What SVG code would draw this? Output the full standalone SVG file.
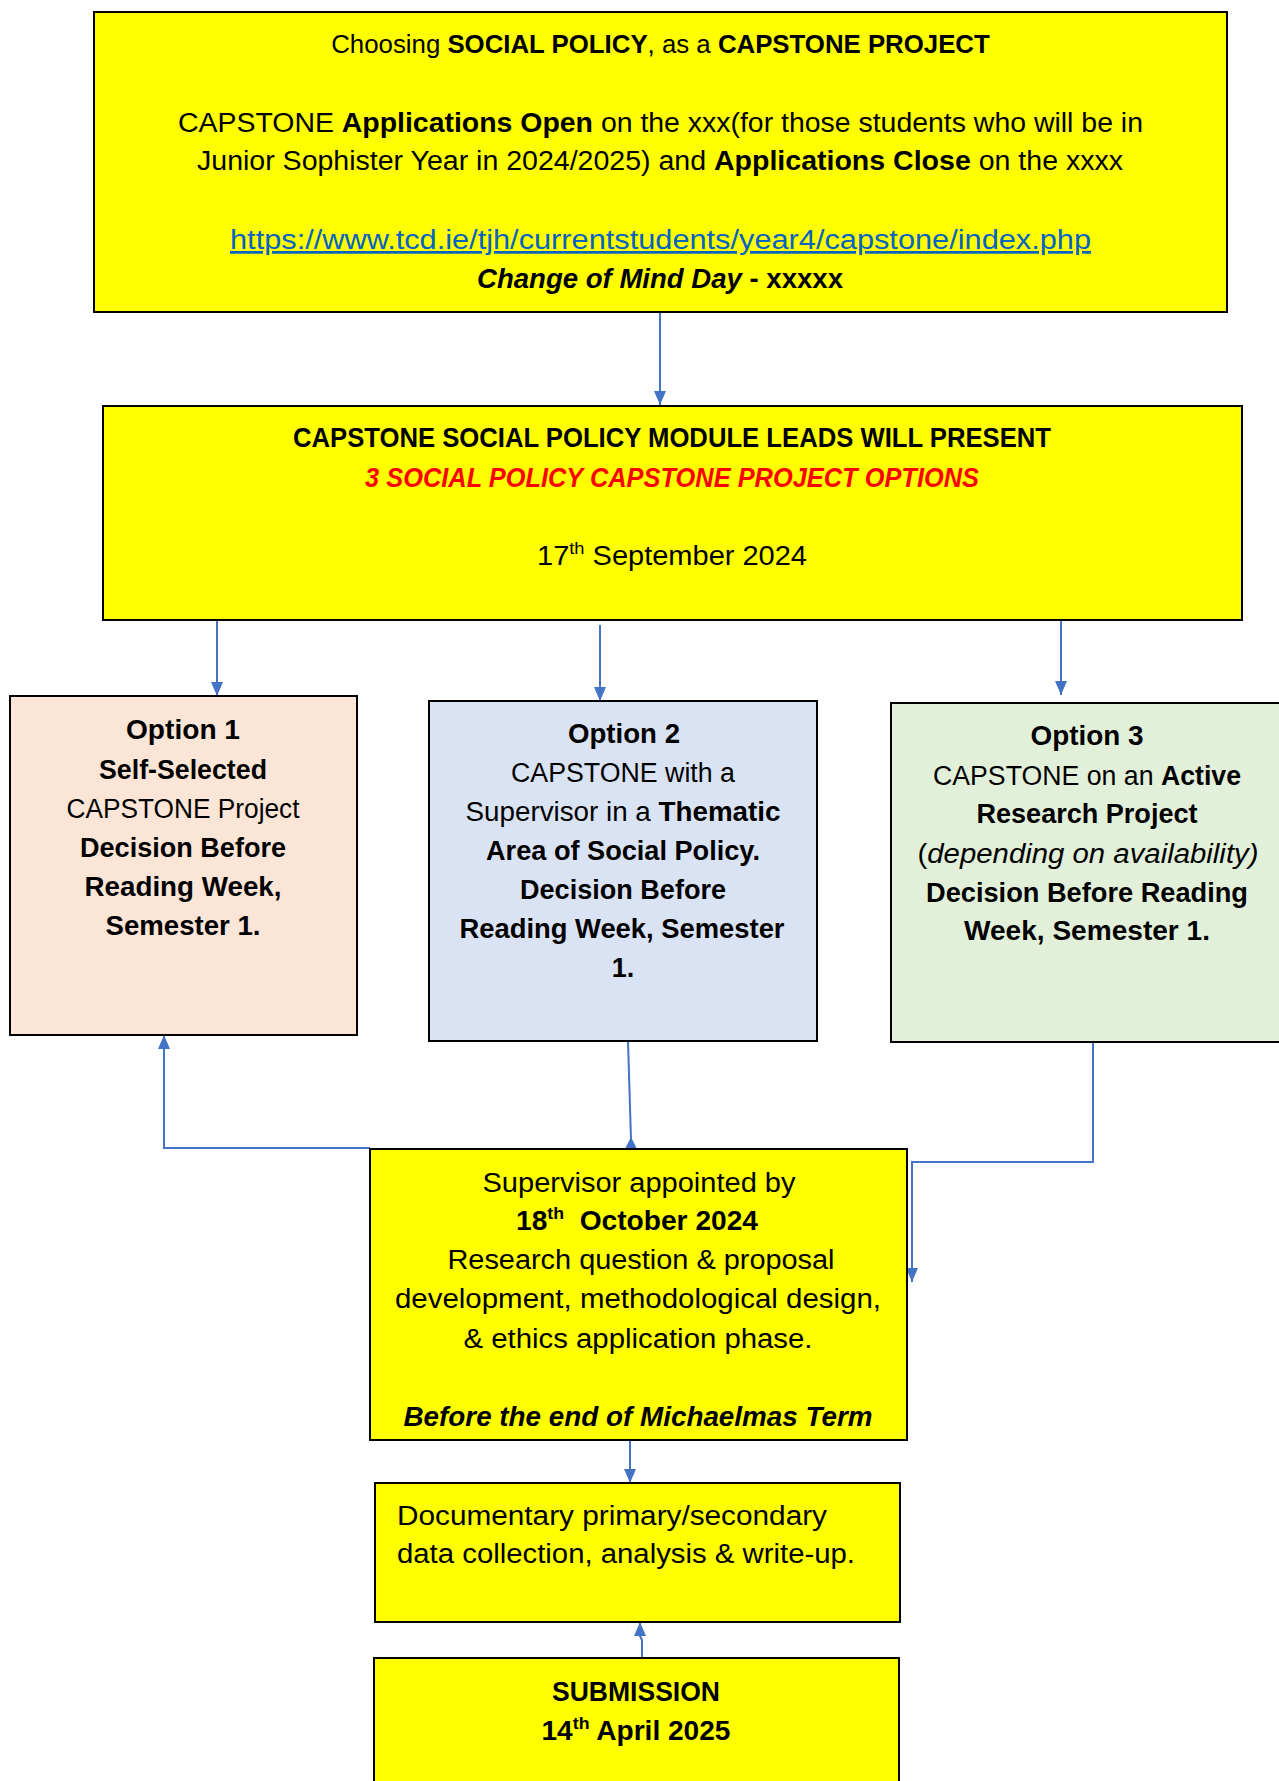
<svg xmlns="http://www.w3.org/2000/svg" width="1279" height="1781" viewBox="0 0 1279 1781">
<style>
.box{stroke:#000;stroke-width:2}
.y{fill:#FFFF00}
.t{font-family:"Liberation Sans",Arial,sans-serif;font-size:27px;fill:#000}
.m{text-anchor:middle}
.b{font-weight:bold}
.i{font-style:italic}
.c{fill:none;stroke:#4472C4;stroke-width:2}
.lnk{fill:#0563C1;text-decoration:underline}
.red{fill:#FF0000}
</style>
<defs>
<marker id="arr" viewBox="0 0 14 12" refX="14" refY="6" markerWidth="14" markerHeight="12" markerUnits="userSpaceOnUse" orient="auto">
<path d="M0,0 L14,6 L0,12 z" fill="#4472C4"/>
</marker>
</defs>
<rect width="1279" height="1781" fill="#fff"/>

<g id="connectors">
<path class="c" d="M660,312 L660,405" marker-end="url(#arr)"/>
<path class="c" d="M217,620 L217,696" marker-end="url(#arr)"/>
<path class="c" d="M600,625 L600,701" marker-end="url(#arr)"/>
<path class="c" d="M1061,620 L1061,695" marker-end="url(#arr)"/>
<path class="c" d="M370,1148 L164,1148 L164,1035" marker-end="url(#arr)"/>
<path class="c" d="M628,1041 L631,1140"/>
<polygon points="631,1137 625,1149 637,1149" fill="#4472C4"/>
<path class="c" d="M1093,1042 L1093,1162 L912,1162 L912,1282" marker-end="url(#arr)"/>
<path class="c" d="M630,1440 L630,1483" marker-end="url(#arr)"/>
<path class="c" d="M642,1658 L642,1640 L640,1636 L640,1622" marker-end="url(#arr)"/>
</g>

<g id="node-choosing">
<rect class="box y" x="94" y="12" width="1133" height="300"/>
<text class="t m" x="660.5" y="53" style="font-size:25.8px">Choosing <tspan class="b">SOCIAL POLICY</tspan>, as a <tspan class="b">CAPSTONE PROJECT</tspan></text>
<text class="t m" x="660.5" y="131.5" textLength="965" lengthAdjust="spacingAndGlyphs">CAPSTONE <tspan class="b">Applications Open</tspan> on the xxx(for those students who will be in</text>
<text class="t m" x="660" y="170" textLength="926" lengthAdjust="spacingAndGlyphs">Junior Sophister Year in 2024/2025) and <tspan class="b">Applications Close</tspan> on the xxxx</text>
<text class="t m lnk" x="660.5" y="249" textLength="861" lengthAdjust="spacingAndGlyphs">https://www.tcd.ie/tjh/currentstudents/year4/capstone/index.php</text>
<text class="t m b" x="660" y="288" textLength="366" lengthAdjust="spacingAndGlyphs"><tspan class="i">Change of Mind Day</tspan> - xxxxx</text>
</g>

<g id="node-present">
<rect class="box y" x="103" y="406" width="1139" height="214"/>
<text class="t m b" x="672" y="447" textLength="758" lengthAdjust="spacingAndGlyphs">CAPSTONE SOCIAL POLICY MODULE LEADS WILL PRESENT</text>
<text class="t m b i red" x="672" y="487" textLength="614" lengthAdjust="spacingAndGlyphs">3 SOCIAL POLICY CAPSTONE PROJECT OPTIONS</text>
<text class="t m" x="672" y="565" textLength="270" lengthAdjust="spacingAndGlyphs">17<tspan font-size="17" dy="-11">th</tspan><tspan dy="11"> September 2024</tspan></text>
</g>

<g id="node-option1">
<rect class="box" fill="#FBE5D6" x="10" y="696" width="347" height="339"/>
<text class="t m b" x="183" y="739" textLength="114" lengthAdjust="spacingAndGlyphs">Option 1</text>
<text class="t m b" x="183" y="779" textLength="168" lengthAdjust="spacingAndGlyphs">Self-Selected</text>
<text class="t m" x="183" y="818" textLength="233" lengthAdjust="spacingAndGlyphs">CAPSTONE Project</text>
<text class="t m b" x="183" y="857" textLength="206" lengthAdjust="spacingAndGlyphs">Decision Before</text>
<text class="t m b" x="183" y="896" textLength="197" lengthAdjust="spacingAndGlyphs">Reading Week,</text>
<text class="t m b" x="183" y="935" textLength="155" lengthAdjust="spacingAndGlyphs">Semester 1.</text>
</g>

<g id="node-option2">
<rect class="box" fill="#DAE3F3" x="429" y="701" width="388" height="340"/>
<text class="t m b" x="624" y="743" textLength="112" lengthAdjust="spacingAndGlyphs">Option 2</text>
<text class="t m" x="623" y="782" textLength="224" lengthAdjust="spacingAndGlyphs">CAPSTONE with a</text>
<text class="t m" x="623" y="821" textLength="315" lengthAdjust="spacingAndGlyphs">Supervisor in a <tspan class="b">Thematic</tspan></text>
<text class="t m b" x="623" y="860" textLength="274" lengthAdjust="spacingAndGlyphs">Area of Social Policy.</text>
<text class="t m b" x="623" y="899" textLength="206" lengthAdjust="spacingAndGlyphs">Decision Before</text>
<text class="t m b" x="622" y="938" textLength="325" lengthAdjust="spacingAndGlyphs">Reading Week, Semester</text>
<text class="t m b" x="623" y="977">1.</text>
</g>

<g id="node-option3">
<rect class="box" fill="#E2F0D9" x="891" y="703" width="393" height="339"/>
<text class="t m b" x="1087" y="745" textLength="113" lengthAdjust="spacingAndGlyphs">Option 3</text>
<text class="t m" x="1087" y="785" textLength="308" lengthAdjust="spacingAndGlyphs">CAPSTONE on an <tspan class="b">Active</tspan></text>
<text class="t m b" x="1087" y="823" textLength="221" lengthAdjust="spacingAndGlyphs">Research Project</text>
<text class="t m" x="1088" y="863" textLength="341" lengthAdjust="spacingAndGlyphs">(<tspan class="i">depending on availability)</tspan></text>
<text class="t m b" x="1087" y="902" textLength="322" lengthAdjust="spacingAndGlyphs">Decision Before Reading</text>
<text class="t m b" x="1087" y="940" textLength="246" lengthAdjust="spacingAndGlyphs">Week, Semester 1.</text>
</g>

<g id="node-supervisor">
<rect class="box y" x="370" y="1149" width="537" height="291"/>
<text class="t m" x="639" y="1192" textLength="313" lengthAdjust="spacingAndGlyphs">Supervisor appointed by</text>
<text class="t m b" x="637" y="1230" textLength="242" lengthAdjust="spacingAndGlyphs">18<tspan font-size="17" dy="-11">th</tspan><tspan dy="11">&#160; October 2024</tspan></text>
<text class="t m" x="641" y="1269" textLength="387" lengthAdjust="spacingAndGlyphs">Research question &amp; proposal</text>
<text class="t m" x="638" y="1308" textLength="486" lengthAdjust="spacingAndGlyphs">development, methodological design,</text>
<text class="t m" x="638" y="1348" textLength="349" lengthAdjust="spacingAndGlyphs">&amp; ethics application phase.</text>
<text class="t m b i" x="638" y="1426" textLength="469" lengthAdjust="spacingAndGlyphs">Before the end of Michaelmas Term</text>
</g>

<g id="node-documentary">
<rect class="box y" x="375" y="1483" width="525" height="139"/>
<text class="t" x="397" y="1525" textLength="430" lengthAdjust="spacingAndGlyphs">Documentary primary/secondary</text>
<text class="t" x="397" y="1563" textLength="458" lengthAdjust="spacingAndGlyphs">data collection, analysis &amp; write-up.</text>
</g>

<g id="node-submission">
<rect class="box y" x="374" y="1658" width="525" height="150"/>
<text class="t m b" x="636" y="1701" textLength="168" lengthAdjust="spacingAndGlyphs">SUBMISSION</text>
<text class="t m b" x="636" y="1740" textLength="189" lengthAdjust="spacingAndGlyphs">14<tspan font-size="17" dy="-11">th</tspan><tspan dy="11"> April 2025</tspan></text>
</g>
</svg>
